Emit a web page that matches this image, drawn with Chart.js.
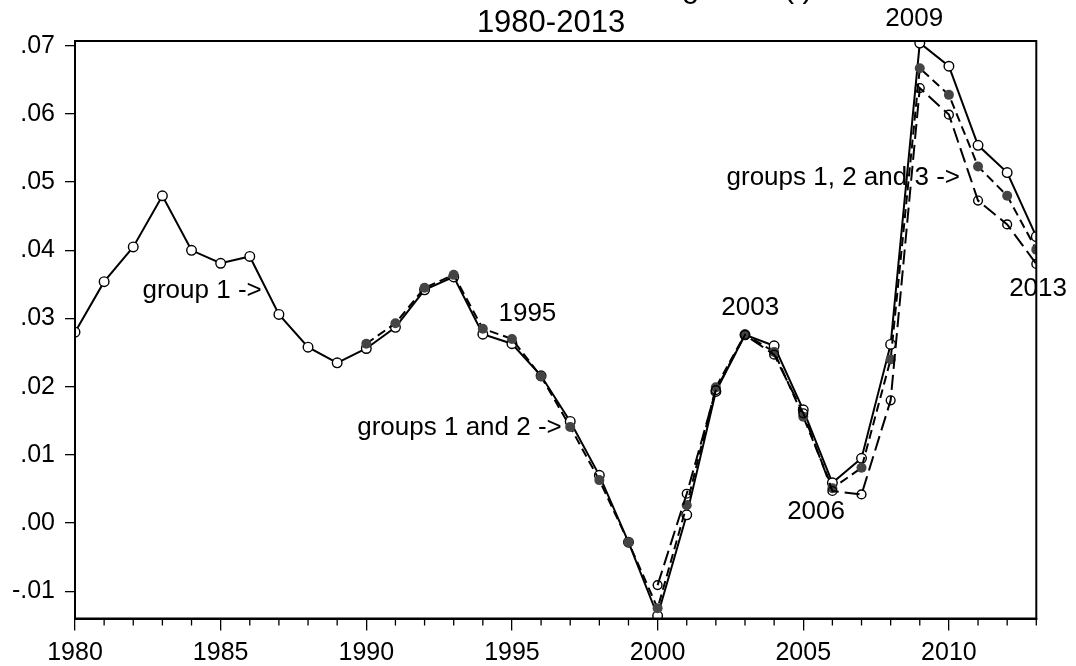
<!DOCTYPE html>
<html>
<head>
<meta charset="utf-8">
<script src="https://cdn.jsdelivr.net/npm/chart.js@4/dist/chart.umd.min.js"></script>
<style>
html,body{margin:0;padding:0;background:#fff;}
#wrap{width:1076px;height:666px;position:relative;}
</style>
</head>
<body>
<div id="wrap"><canvas id="c" width="1076" height="666"></canvas></div>
<script>
// ---- data ----
const years = [1980,1981,1982,1983,1984,1985,1986,1987,1988,1989,
               1990,1991,1992,1993,1994,1995,1996,1997,1998,1999,
               2000,2001,2002,2003,2004,2005,2006,2007,2008,2009,
               2010,2011,2012,2013];
const group1 = [0.0280,0.0354,0.0405,0.0480,0.0400,0.0381,0.0391,0.0306,0.0258,0.0235,
                0.0256,0.0287,0.0342,0.0361,0.0277,0.0263,0.0216,0.0149,0.0070,-0.0028,
                -0.0136,0.0012,0.0193,0.0276,0.0260,0.0166,0.0059,0.0095,0.0262,0.0704,
                0.0670,0.0554,0.0514,0.0420];
const groups12Years = [1990,1991,1992,1993,1994,1995,1996,1997,1998,1999,
                       2000,2001,2002,2003,2004,2005,2006,2007,2008,2009,
                       2010,2011,2012,2013];
const groups12 = [0.0263,0.0293,0.0345,0.0364,0.0285,0.0270,0.0215,0.0141,0.0063,-0.0028,
                  -0.0125,0.0026,0.0199,0.0277,0.0251,0.0156,0.0051,0.0081,0.0240,0.0667,
                  0.0628,0.0523,0.0480,0.0401];
const groups123Years = [2000,2001,2002,2003,2004,2005,2006,2007,2008,2009,2010,2011,2012,2013];
const groups123 = [-0.0091,0.0043,0.0195,0.0276,0.0247,0.0161,0.0047,0.0042,0.0180,0.0638,
                   0.0599,0.0473,0.0438,0.0380];
const yTickValues = [-0.01,0.00,0.01,0.02,0.03,0.04,0.05,0.06,0.07];
const xLabelYears = [1980,1985,1990,1995,2000,2005,2010];
const titleLines = ['Contribution to total inflation growth (t)', '1980-2013'];
const noteTexts = ['group 1 ->','groups 1 and 2 ->','groups 1, 2 and 3 ->','1995','2003','2006','2009','2013'];

// ---- layout / style (not data) ----
const FONT = '"Liberation Sans", Arial, Helvetica, sans-serif';
const notePos = [ // anchor in data coords, alignment
  {x:1986.41, y:0.0341, align:'right'},
  {x:1996.71, y:0.0140, align:'right'},
  {x:2010.38, y:0.0506, align:'right'},
  {x:1995.53, y:0.0307, align:'center'},
  {x:2003.18, y:0.0315, align:'center'},
  {x:2005.44, y:0.0016, align:'center'},
  {x:2008.81, y:0.0739, align:'center'},
  {x:2013.06, y:0.0344, align:'center'}
];

const toXY = (xs, vs) => vs.map((v, i) => ({x: xs[i], y: v}));

const overlayPlugin = {
  id: 'overlay',
  afterDatasetsDraw(chart) {
    const {ctx, chartArea: a, scales} = chart;
    ctx.save();
    // frame
    ctx.strokeStyle = '#000';
    ctx.lineWidth = 2;
    ctx.strokeRect(a.left, a.top, a.right - a.left, a.bottom - a.top);
    // minor x ticks
    ctx.lineWidth = 1.3;
    ctx.beginPath();
    years.forEach(yr => {
      if (xLabelYears.includes(yr)) return;
      const px = scales.x.getPixelForValue(yr);
      ctx.moveTo(px, a.bottom);
      ctx.lineTo(px, a.bottom + 7);
    });
    ctx.stroke();
    ctx.restore();
  },
  afterDraw(chart) {
    const {ctx, scales} = chart;
    ctx.save();
    ctx.fillStyle = '#000';
    // title
    ctx.textAlign = 'center';
    ctx.textBaseline = 'alphabetic';
    ctx.font = '31px ' + FONT;
    ctx.fillText(titleLines[0], 551, -3.5);
    ctx.fillText(titleLines[1], 551, 32);
    // notes
    ctx.font = '26px ' + FONT;
    ctx.textBaseline = 'middle';
    noteTexts.forEach((t, i) => {
      const p = notePos[i];
      ctx.textAlign = p.align;
      ctx.fillText(t, scales.x.getPixelForValue(p.x), scales.y.getPixelForValue(p.y));
    });
    ctx.restore();
  }
};

new Chart(document.getElementById('c'), {
  type: 'line',
  data: {
    datasets: [
      {
        label: 'group 1',
        data: toXY(years, group1),
        borderColor: '#000',
        borderWidth: 2,
        pointRadius: 4.8,
        pointBorderWidth: 1.4,
        pointBackgroundColor: '#fff',
        pointBorderColor: '#000',
        clip: 0,
        order: 3
      },
      {
        label: 'groups 1 and 2',
        data: toXY(groups12Years, groups12),
        borderColor: '#000',
        borderWidth: 2,
        borderDash: [9, 5],
        pointRadius: 5,
        pointBorderWidth: 0,
        pointBackgroundColor: '#444',
        pointBorderColor: '#444',
        clip: 0,
        order: 2
      },
      {
        label: 'groups 1, 2 and 3',
        data: toXY(groups123Years, groups123),
        borderColor: '#000',
        borderWidth: 2,
        borderDash: [15, 6],
        pointRadius: 4.4,
        pointBorderWidth: 1.4,
        pointBackgroundColor: 'rgba(0,0,0,0)',
        pointBorderColor: '#000',
        clip: 0,
        order: 1
      }
    ]
  },
  options: {
    responsive: false,
    animation: false,
    devicePixelRatio: 1,
    layout: {padding: {top: 41, right: 39.7, left: 0, bottom: 0}},
    plugins: {legend: {display: false}, tooltip: {enabled: false}, title: {display: false}},
    elements: {line: {tension: 0}},
    scales: {
      x: {
        type: 'linear',
        min: 1980,
        max: 2013,
        afterFit: s => { s.height = 47.5; },
        afterBuildTicks: s => { s.ticks = years.map(v => ({value: v})); },
        border: {display: true, color: '#000', width: 2},
        grid: {
          drawOnChartArea: false,
          drawTicks: true,
          tickLength: 12,
          lineWidth: 1.3,
          tickColor: c => (c.tick && xLabelYears.includes(c.tick.value)) ? '#000' : 'rgba(0,0,0,0)'
        },
        ticks: {
          autoSkip: false,
          maxRotation: 0,
          padding: 8,
          color: '#000',
          font: {family: FONT, size: 25},
          callback: v => xLabelYears.includes(v) ? String(v) : ''
        }
      },
      y: {
        type: 'linear',
        min: -0.0140,
        max: 0.0707,
        afterFit: s => { s.width = 75; },
        afterBuildTicks: s => { s.ticks = yTickValues.map(v => ({value: v})); },
        border: {display: true, color: '#000', width: 2},
        grid: {drawOnChartArea: false, drawTicks: true, tickLength: 10, lineWidth: 1.3, tickColor: '#000'},
        ticks: {
          padding: 10,
          color: '#000',
          font: {family: FONT, size: 25},
          callback: v => (v < 0 ? '-' : '') + Math.abs(v).toFixed(2).replace(/^0/, '')
        }
      }
    }
  },
  plugins: [overlayPlugin]
});
</script>
</body>
</html>
